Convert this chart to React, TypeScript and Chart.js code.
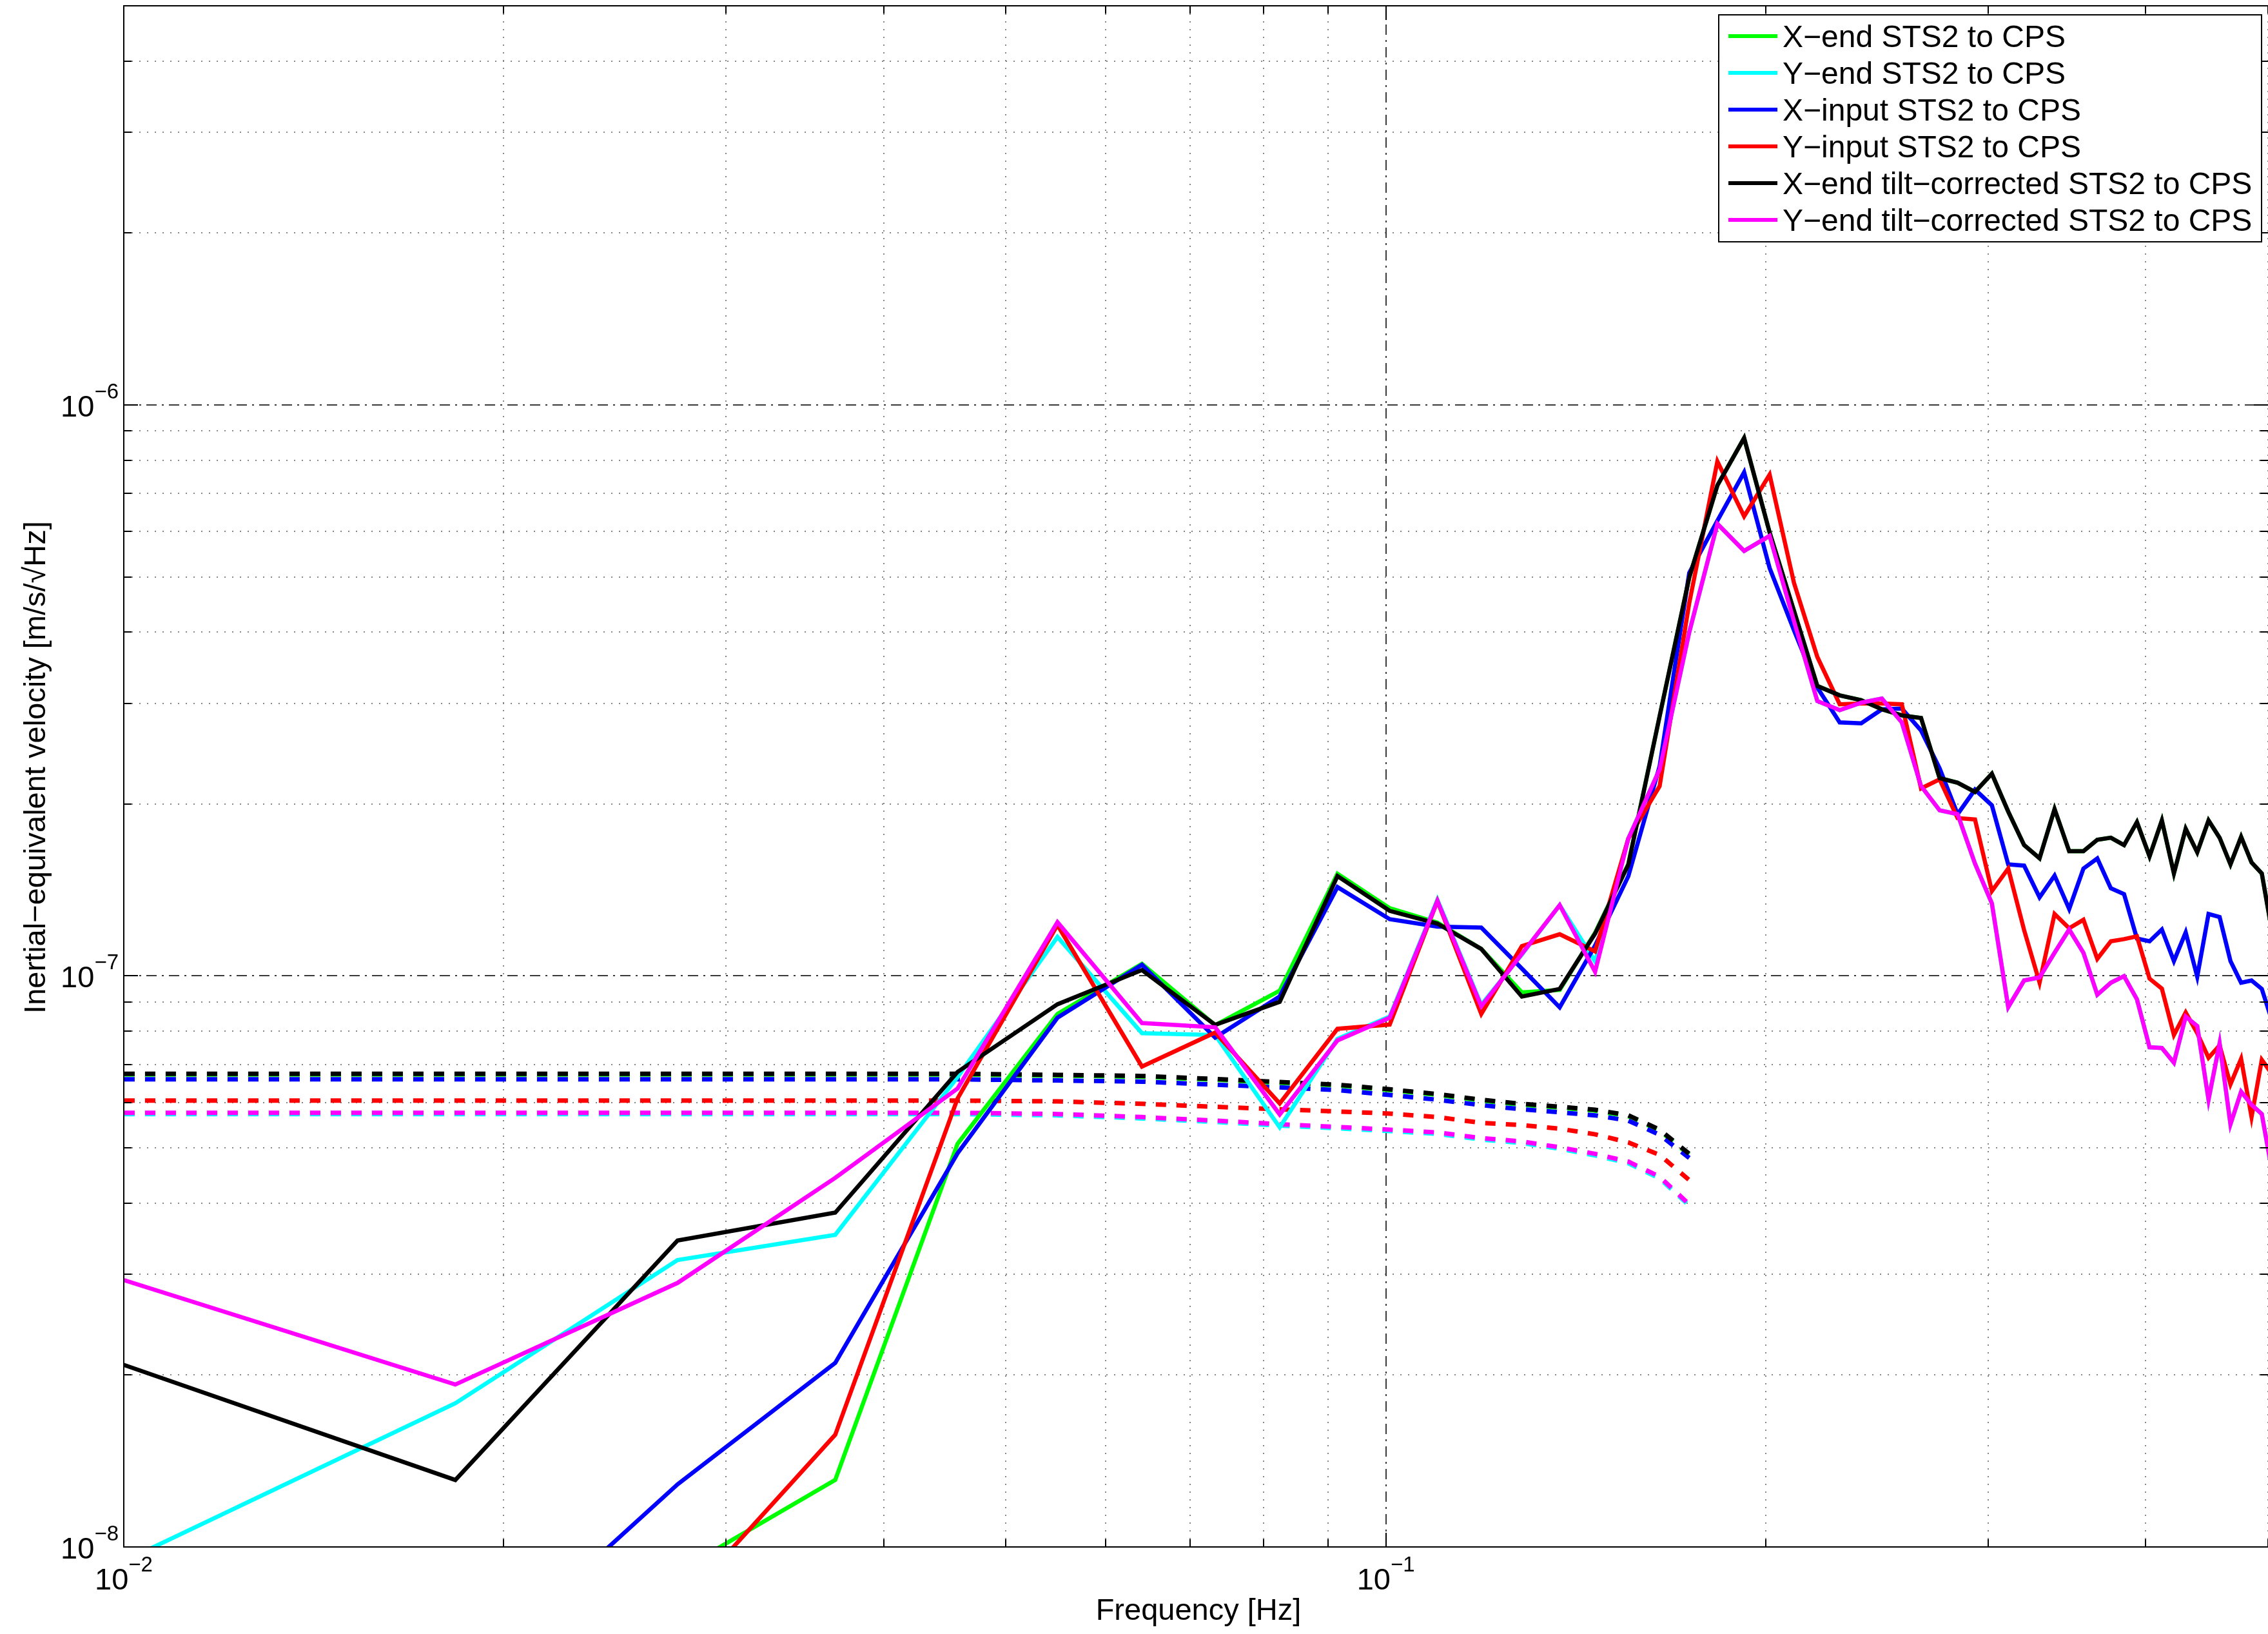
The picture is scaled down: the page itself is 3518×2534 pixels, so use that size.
import React, { useEffect, useRef } from 'react';
import { Chart, registerables } from 'chart.js';

Chart.register(...registerables);

const W = 3518;
const H = 2534;

// Frequency bins [Hz]
const freqHz = [
  0.009155, 0.01831, 0.027465, 0.03662, 0.045775, 0.05493, 0.064085, 0.07324, 0.082395, 0.09155,
  0.100705, 0.10986, 0.119015, 0.12817, 0.137325, 0.14648, 0.155635, 0.16479, 0.173945, 0.1831,
  0.192255, 0.20141, 0.210565, 0.21972, 0.228875, 0.23803, 0.247185, 0.25634, 0.265495, 0.27465,
  0.283805, 0.29296, 0.302115, 0.31127, 0.320425, 0.32958, 0.338735, 0.34789, 0.357045, 0.3662,
  0.375355, 0.38451, 0.393665, 0.40282, 0.411975, 0.42113, 0.430285, 0.43944, 0.448595, 0.45775,
  0.466905, 0.47606, 0.485215, 0.49437, 0.503525,
];

// Solid curves [m/s/rtHz]
const xEndSTS2 = [
  4.0e-9, 5.0e-9, 9.05e-9, 1.31e-8, 5.08e-8, 8.58e-8, 1.05e-7, 8.2e-8, 9.42e-8, 1.51e-7,
  1.314e-7, 1.24e-7, 1.115e-7, 9.36e-8, 9.45e-8, 1.19e-7, 1.57e-7, 2.85e-7, 4.99e-7, 7.23e-7,
  8.75e-7, 5.98e-7, 4.36e-7, 3.22e-7, 3.1e-7, 3.04e-7, 2.93e-7, 2.86e-7, 2.83e-7, 2.22e-7,
  2.18e-7, 2.1e-7, 2.26e-7, 1.94e-7, 1.695e-7, 1.607e-7, 1.96e-7, 1.654e-7, 1.654e-7, 1.732e-7,
  1.746e-7, 1.695e-7, 1.859e-7, 1.62e-7, 1.872e-7, 1.512e-7, 1.81e-7, 1.647e-7, 1.872e-7, 1.746e-7,
  1.568e-7, 1.752e-7, 1.58e-7, 1.512e-7, 1.2e-7,
];
const yEndSTS2 = [
  8.6e-9, 1.785e-8, 3.18e-8, 3.52e-8, 6.65e-8, 1.17e-7, 7.94e-8, 7.88e-8, 5.43e-8, 7.76e-8,
  8.49e-8, 1.36e-7, 8.9e-8, 1.09e-7, 1.33e-7, 1.06e-7, 1.74e-7, 2.3e-7, 4.0e-7, 6.19e-7,
  5.55e-7, 5.9e-7, 4.18e-7, 3.03e-7, 2.92e-7, 3.01e-7, 3.06e-7, 2.78e-7, 2.15e-7, 1.95e-7,
  1.92e-7, 1.573e-7, 1.34e-7, 8.82e-8, 9.82e-8, 9.94e-8, 1.098e-7, 1.206e-7, 1.098e-7, 9.27e-8,
  9.73e-8, 9.99e-8, 9.1e-8, 7.5e-8, 7.48e-8, 7.05e-8, 8.49e-8, 8.17e-8, 6.07e-8, 7.62e-8,
  5.5e-8, 6.27e-8, 5.95e-8, 5.73e-8, 4.57e-8,
];
const xInputSTS2 = [
  4.0e-9, 5.7e-9, 1.287e-8, 2.1e-8, 4.89e-8, 8.45e-8, 1.046e-7, 7.8e-8, 9.21e-8, 1.431e-7,
  1.257e-7, 1.22e-7, 1.215e-7, 1.03e-7, 8.81e-8, 1.13e-7, 1.495e-7, 2.33e-7, 5.08e-7, 6.27e-7,
  7.62e-7, 5.18e-7, 4.03e-7, 3.2e-7, 2.78e-7, 2.77e-7, 2.93e-7, 2.94e-7, 2.69e-7, 2.31e-7,
  1.92e-7, 2.12e-7, 1.99e-7, 1.568e-7, 1.56e-7, 1.373e-7, 1.499e-7, 1.31e-7, 1.542e-7, 1.606e-7,
  1.424e-7, 1.391e-7, 1.163e-7, 1.15e-7, 1.206e-7, 1.062e-7, 1.192e-7, 9.97e-8, 1.284e-7, 1.268e-7,
  1.062e-7, 9.73e-8, 9.82e-8, 9.49e-8, 8.36e-8,
];
const yInputSTS2 = [
  3.0e-9, 4.0e-9, 7.8e-9, 1.572e-8, 6.1e-8, 1.228e-7, 6.94e-8, 7.96e-8, 5.98e-8, 8.08e-8,
  8.22e-8, 1.353e-7, 8.58e-8, 1.128e-7, 1.183e-7, 1.104e-7, 1.74e-7, 2.15e-7, 4.5e-7, 7.96e-7,
  6.38e-7, 7.55e-7, 4.88e-7, 3.62e-7, 2.99e-7, 3.0e-7, 3.0e-7, 2.99e-7, 2.13e-7, 2.21e-7,
  1.89e-7, 1.88e-7, 1.408e-7, 1.542e-7, 1.203e-7, 9.73e-8, 1.284e-7, 1.212e-7, 1.254e-7, 1.071e-7,
  1.15e-7, 1.16e-7, 1.173e-7, 9.89e-8, 9.5e-8, 7.88e-8, 8.63e-8, 7.94e-8, 7.19e-8, 7.56e-8,
  6.46e-8, 7.16e-8, 5.66e-8, 7.13e-8, 6.74e-8,
];
const xEndTiltCorr = [
  2.23e-8, 1.31e-8, 3.44e-8, 3.85e-8, 6.79e-8, 8.92e-8, 1.024e-7, 8.21e-8, 9.01e-8, 1.496e-7,
  1.3e-7, 1.235e-7, 1.115e-7, 9.2e-8, 9.49e-8, 1.186e-7, 1.566e-7, 2.85e-7, 4.99e-7, 7.23e-7,
  8.75e-7, 5.98e-7, 4.36e-7, 3.22e-7, 3.1e-7, 3.04e-7, 2.93e-7, 2.86e-7, 2.83e-7, 2.22e-7,
  2.18e-7, 2.1e-7, 2.26e-7, 1.94e-7, 1.695e-7, 1.607e-7, 1.96e-7, 1.654e-7, 1.654e-7, 1.732e-7,
  1.746e-7, 1.695e-7, 1.859e-7, 1.62e-7, 1.872e-7, 1.512e-7, 1.81e-7, 1.647e-7, 1.872e-7, 1.746e-7,
  1.568e-7, 1.752e-7, 1.58e-7, 1.512e-7, 1.2e-7,
];
const yEndTiltCorr = [
  3.12e-8, 1.925e-8, 2.9e-8, 4.43e-8, 6.35e-8, 1.242e-7, 8.27e-8, 8.13e-8, 5.72e-8, 7.71e-8,
  8.45e-8, 1.353e-7, 8.85e-8, 1.093e-7, 1.33e-7, 1.017e-7, 1.74e-7, 2.3e-7, 4.0e-7, 6.19e-7,
  5.55e-7, 5.9e-7, 4.18e-7, 3.03e-7, 2.92e-7, 3.01e-7, 3.06e-7, 2.78e-7, 2.15e-7, 1.95e-7,
  1.92e-7, 1.573e-7, 1.34e-7, 8.82e-8, 9.82e-8, 9.94e-8, 1.098e-7, 1.206e-7, 1.098e-7, 9.27e-8,
  9.73e-8, 9.99e-8, 9.1e-8, 7.5e-8, 7.48e-8, 7.05e-8, 8.49e-8, 8.17e-8, 6.07e-8, 7.62e-8,
  5.5e-8, 6.27e-8, 5.95e-8, 5.73e-8, 4.57e-8,
];

// Dashed curves (first 19 bins)
const xEndNoise = [
  6.72e-8, 6.72e-8, 6.72e-8, 6.72e-8, 6.72e-8, 6.69e-8, 6.66e-8, 6.58e-8, 6.5e-8, 6.43e-8,
  6.31e-8, 6.19e-8, 6.05e-8, 5.95e-8, 5.88e-8, 5.81e-8, 5.68e-8, 5.36e-8, 4.86e-8,
];
const yEndNoise = [
  5.73e-8, 5.73e-8, 5.73e-8, 5.73e-8, 5.73e-8, 5.7e-8, 5.63e-8, 5.55e-8, 5.47e-8, 5.41e-8,
  5.35e-8, 5.29e-8, 5.17e-8, 5.1e-8, 4.98e-8, 4.85e-8, 4.7e-8, 4.42e-8, 3.96e-8,
];
const xInputNoise = [
  6.59e-8, 6.59e-8, 6.59e-8, 6.59e-8, 6.59e-8, 6.56e-8, 6.53e-8, 6.45e-8, 6.38e-8, 6.31e-8,
  6.19e-8, 6.07e-8, 5.94e-8, 5.84e-8, 5.77e-8, 5.7e-8, 5.58e-8, 5.27e-8, 4.8e-8,
];
const yInputNoise = [
  6.05e-8, 6.05e-8, 6.05e-8, 6.05e-8, 6.05e-8, 6.03e-8, 5.97e-8, 5.9e-8, 5.84e-8, 5.79e-8,
  5.74e-8, 5.66e-8, 5.53e-8, 5.48e-8, 5.4e-8, 5.28e-8, 5.11e-8, 4.86e-8, 4.39e-8,
];
const xEndTiltNoise = [
  6.74e-8, 6.74e-8, 6.74e-8, 6.74e-8, 6.74e-8, 6.71e-8, 6.68e-8, 6.6e-8, 6.52e-8, 6.45e-8,
  6.33e-8, 6.21e-8, 6.07e-8, 5.97e-8, 5.9e-8, 5.83e-8, 5.7e-8, 5.38e-8, 4.88e-8,
];
const yEndTiltNoise = [
  5.76e-8, 5.76e-8, 5.76e-8, 5.76e-8, 5.76e-8, 5.73e-8, 5.66e-8, 5.58e-8, 5.5e-8, 5.44e-8,
  5.38e-8, 5.32e-8, 5.2e-8, 5.13e-8, 5.01e-8, 4.88e-8, 4.73e-8, 4.45e-8, 3.98e-8,
];

const seriesLabels = [
  'X−end STS2 to CPS',
  'Y−end STS2 to CPS',
  'X−input STS2 to CPS',
  'Y−input STS2 to CPS',
  'X−end tilt−corrected STS2 to CPS',
  'Y−end tilt−corrected STS2 to CPS',
];
const seriesColors = ['#00ff00', '#00ffff', '#0000ff', '#ff0000', '#000000', '#ff00ff'];

// Axis ticks
const xMajorTicks = [0.01, 0.1];
const xMajorExp = ['−2', '−1'];
const xMinorTicks = [0.02, 0.03, 0.04, 0.05, 0.06, 0.07, 0.08, 0.09, 0.2, 0.3, 0.4, 0.5];
const yMajorTicks = [1e-8, 1e-7, 1e-6];
const yMajorExp = ['−8', '−7', '−6'];
const yMinorTicks = [
  2e-8, 3e-8, 4e-8, 5e-8, 6e-8, 7e-8, 8e-8, 9e-8,
  2e-7, 3e-7, 4e-7, 5e-7, 6e-7, 7e-7, 8e-7, 9e-7,
  2e-6, 3e-6, 4e-6, 5e-6,
];

const xTitle = 'Frequency [Hz]';
const yTitle = 'Inertial−equivalent velocity [m/s/√Hz]';

const FONT = '"Liberation Sans", Arial, Helvetica, sans-serif';
const BASE_SIZE = 47;
const LEGEND_SIZE = 48;
const EXP_SIZE = 33;
const LINE_W = 6.5;

const matlabAxes = {
  id: 'matlabAxes',
  beforeDatasetsDraw(chart: any) {
    const { ctx, chartArea: a, scales } = chart;
    const xs = scales.x;
    const ys = scales.y;
    ctx.save();
    ctx.beginPath();
    ctx.rect(a.left, a.top, a.right - a.left, a.bottom - a.top);
    ctx.clip();
    ctx.lineWidth = 2;
    ctx.lineCap = 'butt';
    // minor dotted grid
    ctx.strokeStyle = '#858585';
    ctx.setLineDash([2, 10]);
    for (const v of xMinorTicks) {
      const p = Math.round(xs.getPixelForValue(v));
      ctx.beginPath();
      ctx.moveTo(p, a.bottom);
      ctx.lineTo(p, a.top);
      ctx.stroke();
    }
    for (const v of yMinorTicks) {
      const p = Math.round(ys.getPixelForValue(v));
      ctx.beginPath();
      ctx.moveTo(a.left, p);
      ctx.lineTo(a.right, p);
      ctx.stroke();
    }
    // major dash-dot grid
    ctx.strokeStyle = '#3a3a3a';
    ctx.setLineDash([16, 8, 3, 8]);
    for (const v of xMajorTicks) {
      const p = Math.round(xs.getPixelForValue(v));
      ctx.beginPath();
      ctx.moveTo(p, a.bottom);
      ctx.lineTo(p, a.top);
      ctx.stroke();
    }
    for (const v of yMajorTicks) {
      const p = Math.round(ys.getPixelForValue(v));
      ctx.beginPath();
      ctx.moveTo(a.left, p);
      ctx.lineTo(a.right, p);
      ctx.stroke();
    }
    ctx.restore();
  },
  afterDatasetsDraw(chart: any) {
    const { ctx, chartArea: a, scales } = chart;
    const xs = scales.x;
    const ys = scales.y;
    ctx.save();
    ctx.setLineDash([]);
    ctx.strokeStyle = '#000';
    ctx.lineWidth = 2;
    const tick = (vals: number[], len: number) => {
      for (const v of vals) {
        const px = Math.round(xs.getPixelForValue(v));
        ctx.beginPath();
        ctx.moveTo(px, a.bottom);
        ctx.lineTo(px, a.bottom - len);
        ctx.moveTo(px, a.top);
        ctx.lineTo(px, a.top + len);
        ctx.stroke();
      }
    };
    const ytick = (vals: number[], len: number) => {
      for (const v of vals) {
        const py = Math.round(ys.getPixelForValue(v));
        ctx.beginPath();
        ctx.moveTo(a.left, py);
        ctx.lineTo(a.left + len, py);
        ctx.moveTo(a.right, py);
        ctx.lineTo(a.right - len, py);
        ctx.stroke();
      }
    };
    tick(xMinorTicks, 12);
    tick(xMajorTicks, 22);
    ytick(yMinorTicks, 12);
    ytick(yMajorTicks, 22);
    // frame
    ctx.beginPath();
    ctx.moveTo(a.right + 4, a.top);
    ctx.lineTo(a.left, a.top);
    ctx.lineTo(a.left, a.bottom);
    ctx.lineTo(a.right + 4, a.bottom);
    ctx.stroke();

    ctx.fillStyle = '#000';
    ctx.textBaseline = 'alphabetic';
    ctx.textAlign = 'left';
    // y tick labels
    yMajorTicks.forEach((v, i) => {
      const py = ys.getPixelForValue(v);
      ctx.font = `${EXP_SIZE}px ${FONT}`;
      const we = ctx.measureText(yMajorExp[i]).width;
      ctx.font = `${BASE_SIZE}px ${FONT}`;
      const wb = ctx.measureText('10').width;
      const right = a.left - 8;
      ctx.fillText('10', right - we - wb, py + 18);
      ctx.font = `${EXP_SIZE}px ${FONT}`;
      ctx.fillText(yMajorExp[i], right - we, py - 10);
    });
    // x tick labels
    xMajorTicks.forEach((v, i) => {
      const px = xs.getPixelForValue(v);
      ctx.font = `${EXP_SIZE}px ${FONT}`;
      const we = ctx.measureText(xMajorExp[i]).width;
      ctx.font = `${BASE_SIZE}px ${FONT}`;
      const wb = ctx.measureText('10').width;
      const start = px - (wb + we) / 2;
      ctx.fillText('10', start, a.bottom + 66);
      ctx.font = `${EXP_SIZE}px ${FONT}`;
      ctx.fillText(xMajorExp[i], start + wb, a.bottom + 38);
    });
    // axis titles
    ctx.font = `${BASE_SIZE}px ${FONT}`;
    ctx.textAlign = 'center';
    ctx.fillText(xTitle, (a.left + a.right) / 2 + 4, a.bottom + 113);
    ctx.save();
    ctx.translate(70, 1190);
    ctx.rotate(-Math.PI / 2);
    ctx.fillText(yTitle, 0, 0);
    ctx.restore();

    // legend
    const lx = 2666;
    const ly = 23;
    const lw = 842;
    const lh = 352;
    ctx.fillStyle = '#fff';
    ctx.fillRect(lx, ly, lw, lh);
    ctx.strokeStyle = '#000';
    ctx.lineWidth = 2;
    ctx.strokeRect(lx, ly, lw, lh);
    ctx.textAlign = 'left';
    ctx.font = `${LEGEND_SIZE}px ${FONT}`;
    const items = chart.data.datasets.filter((d: any) => !d.borderDash);
    items.forEach((d: any, i: number) => {
      const cy = ly + 33 + i * 57;
      ctx.strokeStyle = d.borderColor;
      ctx.lineWidth = 6;
      ctx.beginPath();
      ctx.moveTo(lx + 15, cy);
      ctx.lineTo(lx + 91, cy);
      ctx.stroke();
      ctx.fillStyle = '#000';
      ctx.fillText(d.label, lx + 99, cy + 17);
    });
    ctx.restore();
  },
};

export default function App() {
  const ref = useRef<HTMLCanvasElement>(null);
  useEffect(() => {
    const canvas = ref.current;
    if (!canvas) return;
    const pts = (vals: number[]) => vals.map((v, i) => ({ x: freqHz[i], y: v }));
    const solid = [xEndSTS2, yEndSTS2, xInputSTS2, yInputSTS2, xEndTiltCorr, yEndTiltCorr];
    const dashed = [xEndNoise, yEndNoise, xInputNoise, yInputNoise, xEndTiltNoise, yEndTiltNoise];
    const datasets: any[] = [
      ...solid.map((vals, i) => ({
        label: seriesLabels[i],
        data: pts(vals),
        borderColor: seriesColors[i],
        backgroundColor: seriesColors[i],
        borderWidth: LINE_W,
        pointRadius: 0,
        tension: 0,
        fill: false,
        clip: 0,
        order: 6 - i,
      })),
      ...dashed.map((vals, i) => ({
        label: seriesLabels[i] + ' noise',
        data: pts(vals),
        borderColor: seriesColors[i],
        backgroundColor: seriesColors[i],
        borderWidth: LINE_W + 0.5,
        borderDash: [16, 16],
        borderDashOffset: 20,
        pointRadius: 0,
        tension: 0,
        fill: false,
        clip: 0,
        order: 12 - i,
      })),
    ];
    const chart = new Chart(canvas, {
      type: 'line',
      data: { datasets },
      options: {
        responsive: false,
        animation: false,
        devicePixelRatio: 1,
        events: [],
        layout: { padding: { left: 192, top: 9, right: 0, bottom: 135 } },
        scales: {
          x: { type: 'logarithmic', min: 0.01, max: 0.5, display: false },
          y: { type: 'logarithmic', min: 1e-8, max: 5e-6, display: false },
        },
        plugins: {
          legend: { display: false },
          tooltip: { enabled: false },
        },
      },
      plugins: [matlabAxes],
    } as any);
    return () => chart.destroy();
  }, []);
  return (
    <div style={{ position: 'fixed', left: 0, top: 0, width: W, height: H, background: '#fff' }}>
      <canvas ref={ref} width={W} height={H} style={{ display: 'block', width: W, height: H }} />
    </div>
  );
}
